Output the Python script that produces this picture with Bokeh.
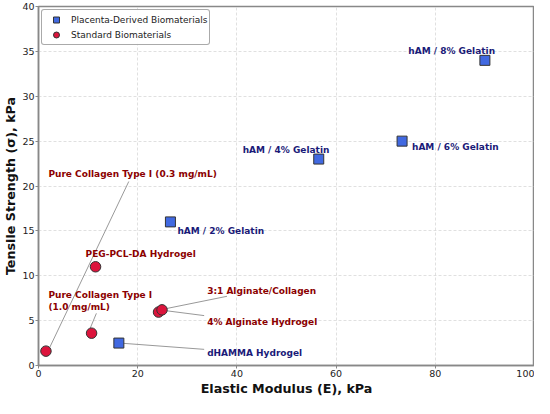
from bokeh.plotting import figure
from bokeh.models import ColumnDataSource, Range1d, FixedTicker, Legend, LegendItem
from bokeh.core.properties import value
from bokeh.embed import file_html
from bokeh.resources import INLINE

# ---- data ----
placenta_names = ["hAM / 8% Gelatin", "hAM / 6% Gelatin", "hAM / 4% Gelatin",
                  "hAM / 2% Gelatin", "dHAMMA Hydrogel"]
placenta_E = [90.0, 73.3, 56.5, 26.6, 16.2]
placenta_S = [34.0, 25.0, 23.0, 16.0, 2.5]

standard_names = ["Pure Collagen Type I (0.3 mg/mL)", "Pure Collagen Type I (1.0 mg/mL)",
                  "PEG-PCL-DA Hydrogel", "4% Alginate Hydrogel", "3:1 Alginate/Collagen"]
standard_E = [1.5, 10.7, 11.5, 24.2, 24.9]
standard_S = [1.6, 3.6, 11.0, 5.95, 6.2]

x_ticks = [0, 20, 40, 60, 80, 100]
y_ticks = [0, 5, 10, 15, 20, 25, 30, 35, 40]

# label placement (data coordinates)
p_lab_text = ["hAM / 8% Gelatin", "hAM / 6% Gelatin", "hAM / 4% Gelatin",
              "hAM / 2% Gelatin", "dHAMMA Hydrogel"]
p_lab_x = [83.3, 75.3, 49.9, 28.0, 34.0]
p_lab_y = [35.05, 24.3, 24.05, 15.0, 1.37]
p_lab_align = ["center", "left", "center", "left", "left"]

s_lab_text = ["Pure Collagen Type I (0.3 mg/mL)", "Pure Collagen Type I\n(1.0 mg/mL)",
              "PEG-PCL-DA Hydrogel", "4% Alginate Hydrogel", "3:1 Alginate/Collagen"]
s_lab_x = [2.0, 2.0, 20.6, 34.0, 34.0]
s_lab_y = [21.3, 7.21, 12.4, 4.87, 8.35]
s_lab_align = ["left", "left", "center", "left", "left"]

# connector lines (label end -> point end)
con_x0 = [18.2, 11.67, 38.0, 33.4, 33.4]
con_y0 = [20.5, 5.81, 7.71, 5.56, 1.80]
con_x1 = [2.2, 10.4, 25.75, 25.35, 17.1]
con_y1 = [1.94, 4.12, 6.34, 6.13, 2.47]

FONT = "DejaVu Sans"
BLUE_TXT = "#1a1a78"
RED_TXT = "#8b0000"

p = figure(width=534, height=398, output_backend="svg", toolbar_location=None,
           x_range=Range1d(0, 100), y_range=Range1d(0, 40),
           min_border_top=6, min_border_right=0, min_border_left=0, min_border_bottom=0)

p.xaxis.ticker = FixedTicker(ticks=x_ticks)
p.yaxis.ticker = FixedTicker(ticks=y_ticks)
p.xaxis.axis_label = "Elastic Modulus (E), kPa"
p.yaxis.axis_label = "Tensile Strength (σ), kPa"
for ax in (p.xaxis, p.yaxis):
    ax.axis_label_text_font = FONT
    ax.axis_label_text_font_style = "bold"
    ax.axis_label_text_font_size = "12.7px"
    ax.axis_label_text_color = "#111111"
    ax.axis_label_text_line_height = 1.0
    ax.major_label_text_font = FONT
    ax.major_label_text_font_size = "9.5px"
    ax.major_label_text_color = "#222222"
    ax.major_label_text_line_height = 1.0
    ax.axis_line_color = "#888888"
    ax.axis_line_width = 1.5
    ax.major_tick_line_color = "#888888"
    ax.major_tick_out = 3
    ax.major_tick_in = 0
    ax.minor_tick_out = 0
    ax.minor_tick_in = 0
    ax.major_label_standoff = 1
    ax.axis_label_standoff = 1

p.outline_line_color = "#888888"
p.outline_line_width = 1.5
p.grid.grid_line_color = "#cccccc"
p.grid.grid_line_dash = "3 2"
p.grid.grid_line_alpha = 0.6

# connectors
p.segment(x0=con_x0, y0=con_y0, x1=con_x1, y1=con_y1, line_color="#999999", line_width=1)

src_p = ColumnDataSource(dict(x=placenta_E, y=placenta_S, name=placenta_names))
src_s = ColumnDataSource(dict(x=standard_E, y=standard_S, name=standard_names))

r_p = p.scatter("x", "y", source=src_p, marker="square", size=10,
                fill_color="#4169e1", line_color="#333333", line_width=1)
r_s = p.scatter("x", "y", source=src_s, marker="circle", size=10.5,
                fill_color="#dc143c", line_color="#333333", line_width=1)

p.text(x=p_lab_x, y=p_lab_y, text=p_lab_text, text_align=p_lab_align,
       text_baseline="middle", text_font=value(FONT), text_font_style="bold",
       text_font_size="9px", text_color=BLUE_TXT)
p.text(x=s_lab_x, y=s_lab_y, text=s_lab_text, text_align=s_lab_align,
       text_baseline="middle", text_font=value(FONT), text_font_style="bold",
       text_font_size="9px", text_color=RED_TXT, text_line_height=1.15)

legend = Legend(items=[LegendItem(label="Placenta-Derived Biomaterials", renderers=[r_p]),
                       LegendItem(label="Standard Biomaterials", renderers=[r_s])],
                location="top_left")
legend.margin = 3
legend.padding = 2
legend.spacing = 0
legend.label_text_font = FONT
legend.label_text_font_size = "9px"
legend.label_text_color = "#222222"
legend.label_height = 12
legend.glyph_height = 15
legend.glyph_width = 24
legend.label_standoff = 3
legend.border_line_color = "#555555"
legend.border_line_width = 1
legend.background_fill_alpha = 0.9
if hasattr(legend, "border_radius"):
    legend.border_radius = 3
p.add_layout(legend)

open("out.html", "w").write(file_html(p, INLINE))
